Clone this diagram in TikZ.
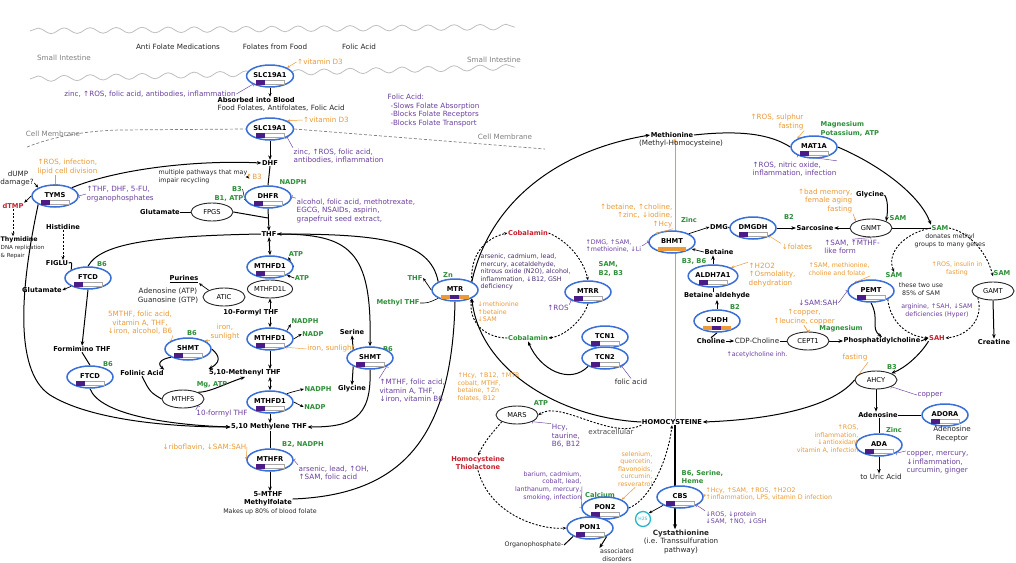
\documentclass[tikz,border=0pt]{standalone}
\usepackage{fontspec}
\setmainfont{DejaVu Sans}
\newfontfamily\symf{DejaVu Sans}
\usetikzlibrary{shapes.geometric,arrows.meta,calc,decorations.pathmorphing}
\pgfdeclarelayer{back}\pgfdeclarelayer{bg}
\pgfsetlayers{back,bg,main}
\definecolor{geneblue}{HTML}{3A6FD8}
\definecolor{pq}{HTML}{4B1C86}
\definecolor{orng}{HTML}{EC9A35}
\definecolor{purp}{HTML}{6B3FA0}
\definecolor{grnc}{HTML}{2F8F3A}
\definecolor{redc}{HTML}{C8202E}
\definecolor{tealc}{HTML}{2AB7CA}
\newcommand\fs{\fontsize{7.2}{8.6}\selectfont}
\newcommand\fm{\fontsize{6.7}{8.2}\selectfont}
\newcommand\fss{\fontsize{6.3}{7.6}\selectfont}
\newcommand\upa{{\symf ↑}}
\newcommand\dna{{\symf ↓}}
\newcommand\gtx[1]{\raisebox{2.5pt}{#1}}
\newcommand\gbar[1]{\draw[gray!70,line width=.3pt,fill=white] ($(#1.center)+(-11,4.5)$) rectangle ($(#1.center)+(14,8.5)$);\fill[pq] ($(#1.center)+(-14,4)$) rectangle ($(#1.center)+(-5,9)$);}
\newcommand\obar[1]{\fill[orng] ($(#1.center)+(-14,4.5)$) rectangle ($(#1.center)+(14,9)$);}
\newcommand\tbar[1]{\fill[orng] ($(#1.center)+(-14,4.5)$) rectangle ($(#1.center)+(14,9)$);\fill[pq] ($(#1.center)+(-5,4.5)$) rectangle ($(#1.center)+(4,9)$);}
\begin{document}
\begin{tikzpicture}[x=1pt,y=-1pt,
 lab/.style={font=\fs, inner sep=0.5pt, text=black!85, align=center},
 met/.style={font=\fm\bfseries, inner sep=0.5pt, text=black, align=center},
 orn/.style={lab, text=orng},
 pur/.style={lab, text=purp},
 grn/.style={lab, text=grnc, font=\fm\bfseries},
 redt/.style={lab, text=redc, font=\fm\bfseries},
 gtxt/.style={lab, text=black!50},
 gene/.style={ellipse, draw=geneblue, line width=1.5pt, fill=white, inner sep=0pt, minimum width=46pt, minimum height=22pt, font=\fm\bfseries},
 enz/.style={ellipse, draw=black!85, line width=0.9pt, fill=white, inner sep=0pt, minimum width=42pt, minimum height=18pt, font=\fm},
 ln/.style={line width=1pt},
 arr/.style={-{Stealth[length=4.5pt,width=3.6pt]}, line width=1pt},
 tarr/.style={-{Stealth[length=3.5pt,width=3pt]}, line width=0.7pt},
 inh/.style={-{Bar[width=4pt]}, line width=0.45pt, draw=purp},
 oarr/.style={-{Stealth[length=3pt,width=2.6pt]}, line width=0.5pt, draw=orng},
 oinh/.style={-{Bar[width=5pt]}, line width=0.7pt, draw=orng},
 dsh/.style={dash pattern=on 2pt off 1.6pt, line width=0.9pt, -{Stealth[length=3.5pt,width=3pt]}},
 memb/.style={dash pattern=on 3pt off 2pt, draw=black!50, line width=0.7pt},
 wavy/.style={draw=black!25, line width=0.8pt, decorate, decoration={snake, amplitude=2.8pt, segment length=26pt}}
]
\useasboundingbox (0,0) rectangle (1016,562);
\begin{pgfonlayer}{back}
\fill[white] (0,0) rectangle (1016,562);
\end{pgfonlayer}
% ---------------- top ----------------
\node[lab] (afm) at (178,47) {Anti Folate Medications};
\node[lab] (fff) at (275,47) {Folates from Food};
\node[lab] (fa0) at (359,47) {Folic Acid};
\node[gtxt] (si1) at (64,58) {Small Intestine};
\node[gtxt] (si2) at (494,60) {Small Intestine};
\node[gene] (SLCa) at (270,76) {\gtx{SLC19A1}}; \gbar{SLCa}
\node[orn] (vd1) at (320,62) {\upa vitamin D3};
\node[pur] (inh1) at (150,94) {zinc, \upa ROS, folic acid, antibodies, inflammation};
\node[met, anchor=west] (abs) at (217,100) {Absorbed into Blood};
\node[lab, anchor=west] (ffa) at (217,108) {Food Folates, Antifolates, Folic Acid};
\node[pur, anchor=west] (fab) at (387,97) {Folic Acid:};
\node[pur, anchor=west, align=left] (fab2) at (390,115) {-Slows Folate Absorption\\-Blocks Folate Receptors\\-Blocks Folate Transport};
\node[gene] (SLCb) at (270,129) {\gtx{SLC19A1}}; \gbar{SLCb}
\node[orn] (vd2) at (326,120) {\upa vitamin D3};
\node[gtxt] (cm1) at (53,134) {Cell Membrane};
\node[gtxt] (cm2) at (505,137) {Cell Membrane};
\coordinate (cmL) at (27,147);
\coordinate (cmR) at (545,149);
\node[pur, anchor=west, align=left] (inh2) at (293,156) {zinc, \upa ROS, folic acid,\\antibodies, inflammation};
\node[met] (DHF) at (270,163) {DHF};
\node[grn] (nadph1) at (293,182) {NADPH};
\node[gene] (DHFR) at (268,197) {\gtx{DHFR}}; \gbar{DHFR}
\node[pur, anchor=west, align=left] (inh3) at (296,211) {alcohol, folic acid, methotrexate,\\EGCG, NSAIDs, aspirin,\\grapefruit seed extract,};
\node[lab, anchor=west, align=left, font=\fss] (mult) at (158,177) {multiple pathways that may\\impair recycling};
\node[orn] (ob3) at (254,177) {\upa B3};
\node[grn] (b3) at (237,189) {B3};
\node[grn] (b1) at (229,199) {B1, ATP};
% ---------------- TYMS ----------------
\node[gene] (TYMS) at (55,196) {\gtx{TYMS}}; \gbar{TYMS}
\node[orn, anchor=west, align=left] (ros1) at (37,167) {\upa ROS, infection,\\lipid cell division};
\node[lab] (dump) at (18,174) {dUMP};
\node[lab] (damage) at (17,183) {damage?};
\node[pur, anchor=west, align=left] (inh4) at (86,194) {\upa THF, DHF, 5-FU,\\organophosphates};
\node[redt] (dTMP) at (13,206) {dTMP};
\node[met, anchor=west, font=\fss\bfseries] (thy) at (0,240) {Thymidine};
\node[lab, anchor=west, font=\fontsize{5.6}{7}\selectfont] (dnar) at (0,248) {DNA replication};
\node[lab, anchor=west, font=\fontsize{5.6}{7}\selectfont] (rep) at (0,256) {\& Repair};
\node[met] (his) at (63,227) {Histidine};
\node[met] (FIGLU) at (57,263) {FIGLU};
\node[grn] (b6a) at (102,264) {B6};
\node[gene] (FTCDa) at (88,278) {\gtx{FTCD}}; \gbar{FTCDa}
\node[met] (glu1) at (42,290) {Glutamate};
\node[met] (fthf) at (82,349) {Formimino THF};
\node[grn] (b6b) at (108,364) {B6};
\node[gene] (FTCDb) at (90,377) {\gtx{FTCD}}; \gbar{FTCDb}
\node[met] (glu2) at (160,212) {Glutamate};
\node[enz] (FPGS) at (212,212) {FPGS};
\coordinate (fp) at (268,218);
% ---------------- folate cycle ----------------
\node[met] (THF) at (269,234) {THF};
\node[grn] (atp1) at (296,254) {ATP};
\node[gene] (MTHFDa) at (270,267) {\gtx{MTHFD1}}; \gbar{MTHFDa}
\node[grn] (atp2) at (302,278) {ATP};
\node[enz] (MTHFDL) at (270,289) {MTHFD1L};
\node[met] (pur0) at (184,279) {\underline{Purines}};
\node[lab] (ade) at (168,291) {Adenosine (ATP)};
\node[lab] (gua) at (168,300) {Guanosine (GTP)};
\node[enz] (ATIC) at (224,297) {ATIC};
\node[met] (fthf10) at (251,313) {10-Formyl THF};
\node[grn] (nadph2) at (305,321) {NADPH};
\node[gene] (MTHFDb) at (270,339) {\gtx{MTHFD1}}; \gbar{MTHFDb}
\node[grn] (nadp2) at (313,334) {NADP};
\node[orn] (irs) at (331,349) {iron, sunlight};
\node[orn, align=center] (sh1t) at (140,323) {5MTHF, folic acid,\\vitamin A, THF,\\\dna iron, alcohol, B6};
\node[grn] (b6c) at (192,333) {B6};
\node[orn] (irs2) at (225,332) {iron,\\sunlight};
\node[gene] (SHMTa) at (188,349) {\gtx{SHMT}}; \gbar{SHMTa}
\node[met] (fol) at (142,373) {Folinic Acid};
\node[met] (menyl) at (245,373) {5,10-Methenyl THF};
\node[enz] (MTHFS) at (183,399) {MTHFS};
\node[grn] (mgatp) at (212,385) {Mg, ATP};
\node[pur] (f10) at (222,414) {10-formyl THF};
\node[gene] (MTHFDc) at (270,402) {\gtx{MTHFD1}}; \gbar{MTHFDc}
\node[grn] (nadph3) at (318,389) {NADPH};
\node[grn] (nadp3) at (315,407) {NADP};
\node[met] (mthyl) at (269,427) {5,10 Methylene THF};
\node[grn] (b2n) at (303,444) {B2, NADPH};
\node[orn, anchor=east] (ribo) at (247,447) {\dna riboflavin, \dna SAM:SAH};
\node[gene] (MTHFR) at (270,460) {\gtx{MTHFR}}; \gbar{MTHFR}
\node[pur, anchor=west, align=left] (inh5) at (298,473) {arsenic, lead, \upa OH,\\\upa SAM, folic acid};
\node[met] (mthf) at (268,499) {5-MTHF\\Methylfolate};
\node[lab, font=\fss] (mk80) at (270,512) {Makes up 80\% of blood folate};
\node[met] (ser) at (352,332) {Serine};
\node[grn] (b6d) at (388,349) {B6};
\node[gene] (SHMTb) at (370,358) {\gtx{SHMT}}; \gbar{SHMTb}
\node[met] (gly1) at (352,389) {Glycine};
\node[pur, anchor=west, align=left] (inh6) at (379,391) {\upa MTHF, folic acid,\\vitamin A, THF,\\\dna iron, vitamin B6};
% ---------------- MTR / cobalamin ----------------
\node[gene] (MTR) at (455,290) {\gtx{MTR}}; \tbar{MTR}
\node[grn] (zn) at (448,275) {Zn};
\node[grn] (thfg) at (415,278) {THF};
\node[grn] (mthfg) at (398,303) {Methyl THF};
\node[redt] (cobr) at (528,233) {Cobalamin};
\node[lab, anchor=west, align=left, text=purp!70!black, font=\fss] (cobt) at (480,272) {arsenic, cadmium, lead,\\mercury, acetaldehyde,\\nitrous oxide (N2O), alcohol,\\inflammation, \dna B12, GSH\\deficiency};
\node[orn, anchor=west, align=left, font=\fss] (cobo) at (477,312) {\dna methionine\\\upa betaine\\\dna SAM};
\node[grn, anchor=west, align=left] (sam1) at (598,269) {SAM,\\B2, B3};
\node[gene] (MTRR) at (588,292) {\gtx{MTRR}}; \gbar{MTRR}
\node[pur] (ros2) at (558,308) {\upa ROS};
\node[lab, text=grnc, font=\fm\bfseries] (cobg) at (528,338) {Cobalamin};
\node[gene] (TCN1) at (605,337) {\gtx{TCN1}}; \gbar{TCN1}
\node[gene] (TCN2) at (605,358) {\gtx{TCN2}}; \gbar{TCN2}
\node[lab] (fa2) at (631,382) {folic acid};
\node[orn, anchor=west, align=left, font=\fss] (hcyo) at (457,387) {\upa Hcy, \upa B12, \upa MTR\\cobalt, MTHF,\\betaine, \upa Zn\\folates, B12};
% ---------------- methionine cycle ----------------
\node[met] (Met) at (672,135) {Methionine};
\node[lab] (mhc) at (681,144) {(Methyl-Homocysteine)};
\node[met] (HCY) at (672,422) {HOMOCYSTEINE};
\node[gene] (MAT) at (814,147) {\gtx{MAT1A}}; \gbar{MAT}
\node[orn, align=right] (ros3) at (777,122) {\upa ROS, sulphur\\fasting};
\node[grn, anchor=west, align=left] (mgk) at (820,129) {Magnesium\\Potassium, ATP};
\node[pur, anchor=west, align=left] (inh7) at (752,169) {\upa ROS, nitric oxide,\\inflammation, infection};
\node[lab, text=grnc, font=\fm\bfseries] (SAM) at (940,228) {SAM};
\node[enz] (GNMT) at (871,228) {GNMT};
\node[grn] (samg) at (898,218) {SAM};
\node[met] (gly2) at (870,195) {Glycine};
\node[orn, anchor=east, align=right] (bm) at (853,201) {\upa bad memory,\\female aging\\fasting};
\node[met] (sarc) at (815,228) {Sarcosine};
\node[grn] (b2a) at (789,217) {B2};
\node[orn] (fols) at (797,247) {\dna folates};
\node[pur, align=left] (inh8) at (852,247) {\upa SAM, \upa MTHF-\\like form};
\node[gene] (DMGDH) at (753,228) {\gtx{DMGDH}}; \gbar{DMGDH}
\node[met] (DMG) at (719,227) {DMG};
\node[orn, anchor=east, align=right] (beto) at (673,216) {\upa betaine, \upa choline,\\\upa zinc, \dna iodine,\\\upa Hcy};
\node[pur, anchor=west, align=left, font=\fss] (inh9) at (585,246) {\upa DMG, \upa SAM,\\\upa methionine, \dna Li};
\node[grn] (zinc1) at (689,220) {Zinc};
\node[met] (bet) at (719,252) {Betaine};
\node[grn] (b36) at (694,261) {B3, B6};
\node[gene] (ALDH) at (713,276) {\gtx{ALDH7A1}}; \gbar{ALDH}
\node[orn, anchor=west, align=left] (h2o2) at (748,275) {\upa H2O2\\\upa Osmolality,\\dehydration};
\node[met] (betald) at (717,296) {Betaine aldehyde};
\node[grn] (b2b) at (735,307) {B2};
\node[gene] (CHDH) at (717,321) {\gtx{CHDH}}; \tbar{CHDH}
\node[met] (chol) at (711,341) {Choline};
\node[lab] (cdp) at (757,341) {CDP-Choline};
\node[pur, font=\fss] (ach) at (757,355) {\upa acetylcholine inh.};
\node[orn, align=center] (cop) at (804,317) {\upa copper,\\\upa leucine, copper};
\node[grn] (mg2) at (841,329) {Magnesium};
\node[enz] (CEPT) at (808,341) {CEPT1};
\node[met] (pc) at (882,341) {Phosphatidylcholine};
\node[gene] (PEMT) at (871,291) {\gtx{PEMT}}; \gbar{PEMT}
\node[grn] (samp) at (894,275) {SAM};
\node[orn, anchor=west, align=left, font=\fss] (samo) at (808,269) {\upa SAM, methionine,\\choline and folate};
\node[pur] (ssah) at (818,303) {\dna SAM:SAH};
\node[redt] (SAH) at (937,338) {SAH};
\node[lab, font=\fss] (don) at (950,241) {donates methyl\\groups to many genes};
\node[orn, font=\fss] (rosf) at (957,269) {\upa ROS, insulin in\\fasting};
\node[lab, font=\fss] (two) at (921,289) {these two use\\85\% of SAM};
\node[pur, font=\fss] (arg) at (937,311) {arginine, \upa SAH, \dna SAM\\deficiencies (Hyper)};
\node[enz] (GAMT) at (993,291) {GAMT};
\node[grn] (samgm) at (1002,273) {SAM};
\node[met] (crea) at (994,342) {Creatine};
\node[orn] (fast) at (855,358) {fasting};
\node[grn] (b3b) at (892,367) {B3};
\node[enz] (AHCY) at (876,380) {AHCY};
\node[pur] (cu) at (930,395) {copper};
\node[met] (ado) at (878,415) {Adenosine};
\node[gene] (ADORA) at (945,415) {\gtx{ADORA}}; \gbar{ADORA}
\node[lab] (adr) at (952,434) {Adenosine\\Receptor};
\node[grn] (zinc2) at (894,430) {Zinc};
\node[gene] (ADA) at (879,445) {\gtx{ADA}}; \gbar{ADA}
\node[orn, anchor=east, align=right, font=\fss] (adao) at (859,439) {\upa ROS,\\inflammation,\\\dna antioxidant\\vitamin A, infection};
\node[pur, anchor=west, align=left] (adap) at (906,463) {copper, mercury,\\\dna inflammation,\\curcumin, ginger};
\node[lab] (uric) at (881,477) {to Uric Acid};
% ---------------- homocysteine ----------------
\node[enz] (MARS) at (517,415) {MARS};
\node[grn] (atp3) at (541,403) {ATP};
\node[pur, align=left] (inh10) at (566,436) {Hcy,\\taurine,\\B6, B12};
\node[lab, text=black!70] (extra) at (611,432) {extracellular};
\node[redt] (hct) at (478,463) {Homocysteine\\Thiolactone};
\node[pur, anchor=east, align=right, font=\fss] (inh11) at (582,486) {barium, cadmium,\\cobalt, lead,\\lanthanum, mercury,\\smoking, infection};
\node[orn, anchor=east, align=right, font=\fss] (pono) at (653,469) {selenium,\\quercetin,\\flavonoids,\\curcumin,\\resveratrol};
\node[grn] (cal) at (600,495) {Calcium};
\node[gene] (PON2) at (605,508) {\gtx{PON2}}; \gbar{PON2}
\node[gene] (PON1) at (590,528) {\gtx{PON1}}; \gbar{PON1}
\node[lab, font=\fss] (orgp) at (534,545) {Organophosphate-};
\node[lab, font=\fss] (assoc) at (617,555) {associated\\disorders};
\node[grn, anchor=west, align=left] (b6s) at (681,477) {B6, Serine,\\Heme};
\node[gene] (CBS) at (680,497) {\gtx{CBS}}; \gbar{CBS}
\node[orn, anchor=west, align=left, font=\fss] (cbso) at (705,494) {\upa Hcy, \upa SAM, \upa ROS, \upa H2O2\\\upa inflammation, LPS, vitamin D infection};
\node[pur, anchor=west, align=left, font=\fss] (cbsp) at (705,518) {\dna ROS, \dna protein\\\dna SAM, \upa NO, \dna GSH};
\node[circle, draw=tealc, line width=1.3pt, fill=white, minimum size=15pt, inner sep=0pt, font=\fontsize{4.5}{5}\selectfont, text=tealc] (H2S) at (643,519) {H2S};
\node[lab] (cys) at (681,542) {\textbf{Cystathionine}\\(i.e. Transsulfuration\\pathway)};
% ================= connectors =================
\begin{pgfonlayer}{bg}
\draw[wavy] (30,31) -- (515,27);
\draw[wavy] (30,79) -- (515,67);
\draw[tarr] (SLCa.south) -- (abs.north -| SLCa.south);
\draw[oarr] (vd1.west) -- (SLCa.north east);
\draw[inh] (inh1.east) -- (SLCa.south west);
\draw[arr] (SLCb.south) -- (DHF.north);
\draw[oarr] (vd2.west) -- (SLCb.north east);
\draw[inh] (inh2.north west) -- (SLCb.south east);
\draw[memb] (cmL) .. controls (50,138) and (80,131) .. (120,130) -- (SLCb.west);
\draw[memb] (SLCb.east) -- (cmR);
\draw[ln] (DHF.south) -- (DHFR.north);
\draw[arr] (DHFR.south) -- (THF.north);
\draw[inh] (inh3.north west) -- (DHFR.east);
\draw[tarr] (mult.east) -- (ob3.west);
\draw[ln, line width=0.5pt] (b3.east) -- (DHFR.west);
\draw[ln, line width=0.5pt] (b1.east) -- (DHFR.south west);
\draw[arr] (TYMS.north east) .. controls (120,168) and (200,160) .. (DHF.west);
\draw[tarr] (TYMS.west) -- (dTMP.north east);
\draw[dsh] (dTMP.south) -- (thy.north -| dTMP.south);
\draw[oinh] (TYMS.north |- ros1.south) -- (TYMS.north);
\draw[tarr] (damage.east) -- (TYMS.north west);
\draw[inh] (inh4.west) -- (TYMS.east);
\draw[dsh] (his.south) -- (FIGLU.north -| his.south);
\draw[ln] (FIGLU.east) .. controls (72,262) .. (FTCDa.north west);
\draw[ln] (THF.west) .. controls (150,236) and (100,244) .. (FTCDa.north);
\draw[tarr] (FTCDa.south west) -- (glu1.east);
\draw[arr] (FTCDa.south) -- (fthf.north);
\draw[ln] (fthf.south) -- (FTCDb.north);
\draw[arr] (FTCDb.south) .. controls (100,415) and (170,425) .. (mthyl.west);
\draw[arr] (TYMS.south west) .. controls (22,280) and (12,370) .. (50,395) .. controls (90,420) and (170,427) .. (mthyl.west);
\draw[ln] (glu2.east) -- (FPGS.west);
\draw[ln] (FPGS.east) -- (fp);
\draw[tarr] (ATIC.north west) -- (pur0.south east);
\draw[arr, {Stealth[length=4.5pt,width=3.6pt]}-{Stealth[length=4.5pt,width=3.6pt]}] (THF.south) -- (MTHFDa.north);
\draw[tarr] (MTHFDa.east) -- (atp1.south west);
\draw[tarr] (atp2.west) -- (MTHFDa.south east);
\draw[arr] (fthf10.north -| MTHFDL.south) -- (MTHFDL.south);
\draw[arr] (fthf10.south -| MTHFDb.north) -- (MTHFDb.north);
\draw[tarr] (MTHFDb.north east) -- (nadph2.south west);
\draw[tarr] (MTHFDb.east) -- (nadp2.west);
\draw[inh, draw=orng] (irs.west) -- (MTHFDb.south east);
\draw[arr] (MTHFDb.south) -- (menyl.north -| MTHFDb.south);
\draw[oarr] (irs2.south west) -- (SHMTa.north east);
\draw[inh, draw=orng] (sh1t.south east) -- (SHMTa.north west);
\draw[arr] (SHMTa.south west) .. controls (165,358) and (155,362) .. (fol.north east);
\draw[arr] (SHMTa.east) .. controls (215,352) and (225,360) .. (menyl.north west);
\draw[ln] (fol.south) .. controls (150,392) .. (MTHFS.west);
\draw[arr] (MTHFS.north east) .. controls (210,392) and (222,385) .. (menyl.south);
\draw[inh] (f10.north west) -- (MTHFS.south east);
\draw[arr, {Stealth[length=4.5pt,width=3.6pt]}-{Stealth[length=4.5pt,width=3.6pt]}] (menyl.south -| MTHFDc.north) -- (MTHFDc.north);
\draw[tarr] (MTHFDc.north east) .. controls (292,392) .. (nadph3.west);
\draw[tarr] (MTHFDc.east) -- (nadp3.west);
\draw[arr] (MTHFDc.south) -- (mthyl.north -| MTHFDc.south);
\draw[ln] (mthyl.south -| MTHFR.north) -- (MTHFR.north);
\draw[oarr] (ribo.east) -- (MTHFR.west);
\draw[inh] (inh5.north west) -- (MTHFR.east);
\draw[arr] (MTHFR.south) -- (mthf.north -| MTHFR.south);
\draw[ln] (mthf.east) .. controls (400,495) and (452,440) .. (MTR.south);
\draw[arr] (SHMTb.north west) -- (ser.south);
\draw[arr] (SHMTb.south west) -- (gly1.north);
\draw[inh] (inh6.north west) -- (SHMTb.south east);
\draw[arr] (THF.east) .. controls (350,234) and (372,250) .. (SHMTb.north);
\draw[arr] (SHMTb.south) .. controls (372,420) and (350,427) .. (mthyl.east);
\draw[arr] (MTR.north west) .. controls (430,240) and (380,234) .. (THF.east);
% MTR
\draw[tarr] (MTR.west) -- (thfg.east);
\draw[ln, line width=0.6pt] (mthfg.east) .. controls (428,303) .. (MTR.south west);
\draw[dsh] (MTR.north east) .. controls (470,255) and (485,238) .. (cobr.west);
\draw[dsh] (cobr.east) .. controls (570,242) and (584,262) .. (MTRR.north);
\draw[dsh] (MTRR.south) .. controls (583,320) and (565,336) .. (cobg.east);
\draw[dsh] (cobg.west) .. controls (485,338) and (468,322) .. (MTR.south east);
\draw[inh] (ros2.north east) -- (MTRR.south west);
\draw[arr] (TCN2.south west) .. controls (570,385) and (540,370) .. (cobg.south);
\draw[inh] (fa2.north) -- (TCN2.south east);
% methionine cycle
\draw[arr] (MTR.north east) .. controls (490,200) and (560,150) .. (Met.west);
\draw[ln] (Met.east) .. controls (740,130) and (770,134) .. (MAT.west);
\draw[arr] (MAT.east) .. controls (880,165) and (920,195) .. (SAM.north west);
\draw[oarr] (ros3.south east) -- (MAT.north west);
\draw[inh] (inh7.north east) -- (MAT.south west);
\draw[ln] (GNMT.east) -- (SAM.west);
\draw[arr] (gly2.east) .. controls (888,200) and (888,210) .. (GNMT.north east);
\draw[oarr] (bm.south east) -- (GNMT.north west);
\draw[arr] (GNMT.west) -- (sarc.east);
\draw[arr] (DMGDH.east) -- (sarc.west);
\draw[inh, draw=orng] (fols.north west) -- (DMGDH.south east);
\draw[inh] (inh8.north) -- (GNMT.south);
\draw[ln] (DMG.east) -- (DMGDH.west);
\draw[draw=orng, line width=1pt, -{Stealth[length=4.5pt,width=3.6pt]}] (HCY.north -| 675,0) -- (Met.south -| 675,0);
% SAM circle
\draw[dsh] (SAM.east) .. controls (968,232) and (986,250) .. (samgm.south west);
\draw[dsh] (SAM.west) .. controls (905,233) and (886,252) .. (samp.north);
\draw[dsh] (PEMT.south east) .. controls (890,320) and (905,336) .. (SAH.west);
\draw[dsh] (GAMT.south west) .. controls (984,320) and (967,336) .. (SAH.east);
\draw[arr] (GAMT.south) -- (crea.north);
\draw[arr] (PEMT.south) .. controls (880,320) and (870,328) .. (pc.north);
\draw[inh] (ssah.east) -- (PEMT.west);
\draw[oarr] (samo.south east) -- (PEMT.north west);
\draw[arr] (pc.east) -- (SAH.west);
\draw[arr] (SAH.south west) .. controls (920,355) and (905,368) .. (AHCY.north east);
\draw[oarr] (fast.south east) -- (AHCY.west);
\draw[inh] (cu.west) -- (AHCY.south east);
\draw[arr] (AHCY.south) -- (ado.north -| AHCY.south);
\draw[ln] (ado.east) -- (ADORA.west);
\draw[ln] (ado.south -| ADA.north) -- (ADA.north);
\draw[arr] (ADA.south) -- (uric.north -| ADA.south);
\draw[oarr] (adao.east) -- (ADA.west);
\draw[inh] (adap.north west) -- (ADA.south east);
\draw[arr] (AHCY.west) .. controls (830,410) and (760,420) .. (HCY.east);
% BHMT region
\draw[tarr] (bet.west) -- ($(bet.west)+(-12,-3)$);
\draw[arr] (ALDH.north) -- (bet.south -| ALDH.north);
\draw[ln] (betald.north -| ALDH.south) -- (ALDH.south);
\draw[arr] (CHDH.north) -- (betald.south -| CHDH.north);
\draw[ln] (chol.north) -- (CHDH.south);
\draw[arr] (chol.east) -- (cdp.west);
\draw[ln] (cdp.east) -- (CEPT.west);
\draw[arr] (CEPT.east) -- (pc.west);
\draw[oinh] (cop.south) -- (CEPT.north);
\draw[oarr] (h2o2.north west) -- (ALDH.north east);
% homocysteine
\draw[arr] (HCY.west) .. controls (560,418) and (480,370) .. (MTR.south east);
\draw[inh] (inh10.north west) -- (MARS.south east);
\draw[dsh] (HCY.south west) .. controls (610,440) and (560,400) .. (MARS.east);
\draw[dsh] (MARS.south west) .. controls (495,430) and (485,440) .. (hct.north);
\draw[dsh] (hct.south) .. controls (490,515) and (540,530) .. (PON1.west);
\draw[dsh] (PON2.east) .. controls (650,500) and (668,460) .. (HCY.south);
\draw[inh] (inh11.east) -- (PON2.west);
\draw[oarr] (pono.south) -- (PON2.north east);
\draw[arr] (PON1.south east) -- (assoc.north west);
\draw[ln] (orgp.east) -- (PON1.south west);
\draw[line width=1.7pt, -{Stealth[length=5pt,width=4pt]}] (HCY.south -| 675,0) -- (cys.north -| 675,0);
\draw[tarr] (CBS.south west) -- (H2S.north east);
\draw[oarr] (cbso.west) -- (CBS.east);
\draw[inh] (cbsp.north west) -- (CBS.south east);
\end{pgfonlayer}
% nodes drawn on top of orange line
\node[gene] (BHMT) at (672,242) {\gtx{BHMT}}; \obar{BHMT}
\draw[tarr] (BHMT.north east) -- (DMG.west);
\draw[oarr] (beto.south east) -- (BHMT.north west);
\draw[inh] (inh9.east) -- (BHMT.west);
\end{tikzpicture}
\end{document}
